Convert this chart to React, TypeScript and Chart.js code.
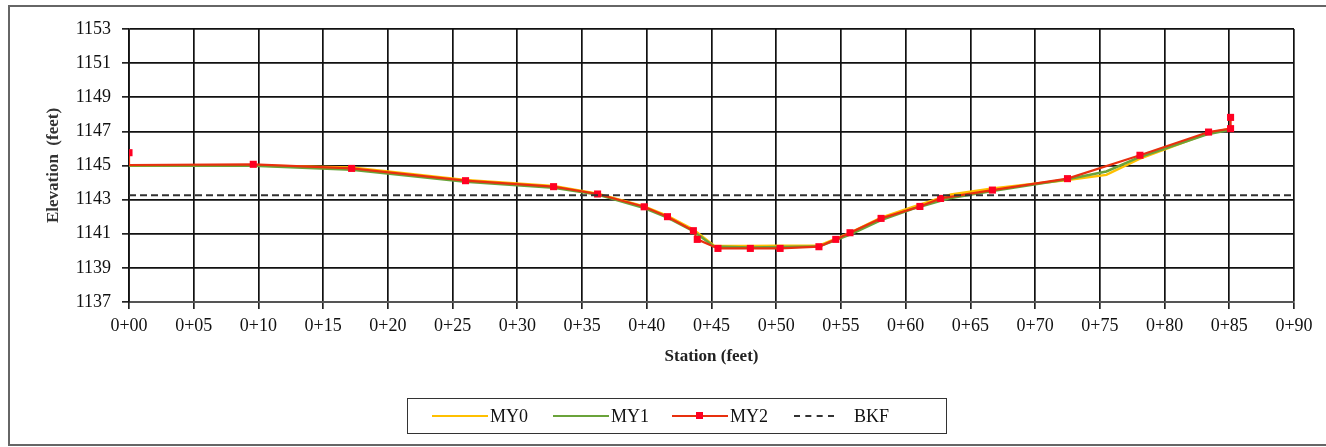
import React, { useEffect, useRef } from "react";
import { Chart, registerables } from "chart.js";

Chart.register(...registerables);

// ---- data ----
const MY2_X = [0, 0, 9.6, 17.2, 26.0, 32.8, 36.2, 39.8, 41.6, 43.6, 43.9, 45.5, 48.0, 50.3, 53.3, 54.6, 55.7, 58.1, 61.1, 62.7, 66.7, 72.5, 78.1, 83.4, 85.1, 85.1];
const MY2_Y = [1145.75, 1145.03, 1145.07, 1144.83, 1144.11, 1143.76, 1143.33, 1142.58, 1142.0, 1141.18, 1140.67, 1140.14, 1140.14, 1140.14, 1140.24, 1140.67, 1141.06, 1141.9, 1142.6, 1143.07, 1143.56, 1144.23, 1145.6, 1146.96, 1147.16, 1147.82];

const MY0_X = [0, 9.6, 17.2, 26.0, 32.8, 36.2, 39.8, 41.6, 43.6, 45.2, 48.0, 50.3, 53.3, 55.7, 58.1, 60.5, 63.5, 66.7, 72.5, 75.5, 78.1, 83.4, 85.1];
const MY0_Y = [1145.0, 1145.0, 1144.88, 1144.15, 1143.8, 1143.35, 1142.6, 1142.05, 1141.25, 1140.3, 1140.28, 1140.3, 1140.3, 1141.05, 1141.95, 1142.55, 1143.3, 1143.65, 1144.15, 1144.45, 1145.4, 1146.9, 1147.15];

const MY1_X = [0, 9.6, 17.2, 26.0, 32.8, 36.2, 39.8, 41.6, 43.6, 45.2, 48.0, 50.3, 53.3, 55.7, 58.1, 60.5, 63.5, 66.7, 72.5, 75.5, 78.1, 83.4, 85.1];
const MY1_Y = [1145.0, 1144.98, 1144.75, 1144.05, 1143.7, 1143.3, 1142.5, 1141.95, 1141.15, 1140.25, 1140.2, 1140.22, 1140.25, 1140.95, 1141.8, 1142.45, 1143.1, 1143.5, 1144.2, 1144.65, 1145.5, 1146.85, 1147.1];

const BKF_X = [0, 90];
const BKF_Y = [1143.25, 1143.25];

const X_TICK_LABELS = ["0+00", "0+05", "0+10", "0+15", "0+20", "0+25", "0+30", "0+35", "0+40", "0+45", "0+50", "0+55", "0+60", "0+65", "0+70", "0+75", "0+80", "0+85", "0+90"];
const Y_TICKS = [1137, 1139, 1141, 1143, 1145, 1147, 1149, 1151, 1153];

const LEGEND_LABELS = ["MY0", "MY1", "MY2", "BKF"];

const zip = (xs: number[], ys: number[]) => xs.map((x, i) => ({ x, y: ys[i] }));

const FONT = "'Liberation Serif', 'Times New Roman', serif";

export default function App() {
  const ref = useRef<HTMLCanvasElement | null>(null);

  useEffect(() => {
    if (!ref.current) return;
    const chart = new Chart(ref.current, {
      type: "line",
      data: {
        datasets: [
          {
            label: "BKF",
            data: zip(BKF_X, BKF_Y),
            borderColor: "#333333",
            borderWidth: 2,
            borderDash: [7, 4],
            pointRadius: 0,
            order: 0,
          },
          {
            label: "MY2",
            data: zip(MY2_X, MY2_Y),
            borderColor: "#E8300E",
            backgroundColor: "#FF0000",
            borderWidth: 2.2,
            pointStyle: "rect",
            pointRadius: (c: any) => (c.dataIndex === 1 ? 0 : 5),
            pointBorderWidth: 0,
            pointBackgroundColor: "#FF0022",
            order: 1,
          },
          {
            label: "MY1",
            data: zip(MY1_X, MY1_Y),
            borderColor: "#6AA33A",
            borderWidth: 2.5,
            pointRadius: 0,
            order: 2,
          },
          {
            label: "MY0",
            data: zip(MY0_X, MY0_Y),
            borderColor: "#FFC000",
            borderWidth: 2.5,
            pointRadius: 0,
            order: 3,
          },
        ],
      },
      options: {
        animation: false,
        responsive: false,
        maintainAspectRatio: false,
        layout: { padding: { left: 0, top: 29, right: 32, bottom: 70 } },
        plugins: { legend: { display: false }, tooltip: { enabled: false }, title: { display: false } },
        scales: {
          x: {
            type: "linear",
            min: 0,
            max: 90,
            afterFit: (s: any) => {
              s.height = 75;
            },
            afterBuildTicks: (s: any) => {
              s.ticks = X_TICK_LABELS.map((_, i) => ({ value: i * 5 }));
            },
            ticks: {
              callback: (_v: any, i: number) => X_TICK_LABELS[i],
              font: { family: FONT, size: 18 },
              color: "#111",
              padding: 6,
              maxRotation: 0,
              autoSkip: false,
            },
            grid: { color: "#111", lineWidth: 1.7, tickLength: 7, tickColor: "#222" },
            border: { color: "#555", width: 2 },
            title: {
              display: true,
              text: "Station (feet)",
              font: { family: FONT, size: 17, weight: "bold" },
              color: "#222",
              padding: { top: 0, bottom: 10 },
            },
          },
          y: {
            type: "linear",
            min: 1137,
            max: 1153,
            afterFit: (s: any) => {
              s.width = 129;
            },
            afterBuildTicks: (s: any) => {
              s.ticks = Y_TICKS.map((v) => ({ value: v }));
            },
            ticks: {
              font: { family: FONT, size: 18 },
              color: "#111",
              padding: 11,
              callback: (v: any) => String(v),
            },
            grid: { color: "#111", lineWidth: 1.7, tickLength: 7, tickColor: "#222" },
            border: { color: "#111", width: 1.7 },
            title: {
              display: true,
              text: "Elevation  (feet)",
              font: { family: FONT, size: 17, weight: "bold" },
              color: "#333",
              padding: { top: 43, bottom: 0 },
            },
          },
        },
      },
    } as any);
    return () => chart.destroy();
  }, []);

  const swatch = (i: number) => {
    if (i === 0) return <span style={{ display: "inline-block", width: 56, height: 0, borderTop: "2.5px solid #FFC000" }} />;
    if (i === 1) return <span style={{ display: "inline-block", width: 56, height: 0, borderTop: "2.5px solid #6AA33A" }} />;
    if (i === 2)
      return (
        <span style={{ position: "relative", display: "inline-block", width: 56, height: 0, borderTop: "2px solid #E8300E" }}>
          <span style={{ position: "absolute", left: 24, top: -5, width: 7, height: 7, background: "#FF0022" }} />
        </span>
      );
    return <span style={{ display: "inline-block", width: 40, height: 0, borderTop: "2px dashed #333" }} />;
  };

  return (
    <div style={{ position: "fixed", left: 0, top: 0, width: 1326, height: 447, background: "#fff", overflow: "hidden" }}>
      <div
        style={{
          position: "absolute",
          left: 8,
          top: 5,
          width: 1340,
          height: 437,
          borderLeft: "2px solid #666",
          borderTop: "2px solid #666",
          borderBottom: "2px solid #666",
        }}
      />
      <canvas ref={ref} width={1326} height={447} style={{ position: "absolute", left: 0, top: 0, width: 1326, height: 447 }} />
      <div
        style={{
          position: "absolute",
          left: 407,
          top: 398,
          width: 540,
          height: 36,
          border: "1.5px solid #333",
          fontFamily: FONT,
          fontSize: 18,
          color: "#111",
          boxSizing: "border-box",
        }}
      >
        {LEGEND_LABELS.map((l, i) => (
          <div key={l} style={{ position: "absolute", left: [24, 145, 264, 386][i], top: 6, display: "flex", alignItems: "center", height: 22 }}>
            {swatch(i)}
            <span style={{ marginLeft: i === 3 ? 20 : 2 }}>{l}</span>
          </div>
        ))}
      </div>
    </div>
  );
}
